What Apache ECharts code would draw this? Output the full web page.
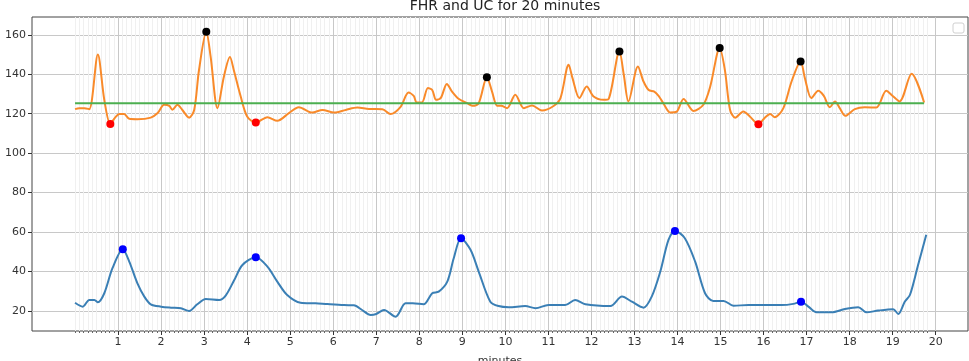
<!DOCTYPE html>
<html>
<head>
<meta charset="utf-8">
<title>FHR and UC for 20 minutes</title>
<script src="https://cdn.jsdelivr.net/npm/echarts@6/dist/echarts.min.js"></script>
<style>html,body{margin:0;padding:0;background:#fff;}</style>
</head>
<body>
<div id="main" style="width:969px;height:361px;"></div>
<script type="text/javascript">
// FHR trace: [minute, bpm]
var fhr = [
    [0,122.3],[0.1,122.8],[0.22,122.8],[0.33,122.3],[0.53,150],[0.68,127],[0.82,114.8],[0.93,118],
    [1.03,119.8],[1.14,119.8],[1.26,117.4],[1.45,117.2],[1.76,118],[1.92,120.3],[2.07,124.5],[2.19,124],
    [2.26,122],[2.38,124.5],[2.49,122],[2.65,118],[2.77,122],[2.88,142],[3.05,161.5],[3.15,149],
    [3.31,122.8],[3.46,138.9],[3.6,148.7],[3.69,142],[3.85,128.7],[4.0,118.6],[4.2,115.5],[4.47,118.2],
    [4.7,116.4],[4.97,120.3],[5.2,123.3],[5.51,120.6],[5.75,121.9],[6.02,120.6],[6.29,121.9],[6.56,123.1],
    [6.83,122.4],[7.14,122.3],[7.33,119.8],[7.56,123.3],[7.75,130.7],[7.87,129],[7.94,125.7],[8.06,125.7],
    [8.2,133],[8.3,132],[8.39,127],[8.5,128],[8.64,135.1],[8.76,131.2],[8.92,127.4],[9.11,125.3],
    [9.23,124],[9.38,125.3],[9.57,138.5],[9.69,131.2],[9.81,124],[9.9,124],[10.04,122.8],[10.23,129.6],
    [10.43,122.8],[10.62,124.2],[10.85,121.6],[11.12,123.9],[11.28,127.9],[11.47,144.8],[11.56,138],[11.72,127.9],
    [11.89,133.8],[12.05,128.7],[12.28,127],[12.4,127.5],[12.65,151.5],[12.75,140],[12.86,126.2],[13.08,143.9],
    [13.21,136.3],[13.33,132],[13.46,131.2],[13.56,129],[13.67,125.3],[13.83,120.6],[13.98,121],[14.14,127.5],
    [14.37,121.4],[14.6,124.5],[14.76,133.8],[14.98,153.3],[15.1,142.2],[15.22,122],[15.34,118],[15.53,121.1],
    [15.68,118.6],[15.88,114.7],[16.03,118],[16.15,119.9],[16.26,118.2],[16.46,122.8],[16.65,136.3],[16.86,146.5],
    [16.96,138],[17.11,127.9],[17.27,131.6],[17.4,129],[17.54,123.3],[17.66,126.2],[17.77,122.8],[17.9,118.9],
    [18.12,122.3],[18.35,123.3],[18.62,123.1],[18.85,131.6],[19.0,129],[19.16,126.2],[19.44,140.2],[19.73,125.7]
];

// UC trace: [minute, value]
var uc = [
    [0,24.2],[0.18,22.2],[0.33,25.6],[0.45,25.6],[0.53,24.4],[0.68,29],[0.87,41.7],[1.11,51.3],
    [1.26,45],[1.45,34],[1.61,27.3],[1.76,23.4],[2.0,22.2],[2.23,21.7],[2.46,21.4],[2.65,20],
    [2.84,23.4],[3.04,26.1],[3.35,25.6],[3.5,27.8],[3.7,35.7],[3.89,43.3],[4.2,47.2],[4.47,42.5],
    [4.7,34.9],[4.93,28.1],[5.24,24.2],[5.59,23.9],[5.86,23.5],[6.25,23],[6.48,22.9],[6.67,20.5],
    [6.87,18],[7.0,18.5],[7.18,20.5],[7.45,17.1],[7.68,23.9],[7.85,23.9],[8.1,23.4],[8.3,29],
    [8.45,29.8],[8.65,34.9],[8.8,46.7],[8.97,56.9],[9.19,51],[9.38,40],[9.65,24.7],[9.84,22.5],
    [10.08,21.9],[10.46,22.5],[10.7,21.4],[11.0,23],[11.39,23],[11.62,25.6],[11.86,23.4],[12.44,22.5],
    [12.71,27.3],[12.94,24.7],[13.21,21.7],[13.4,27.3],[13.6,40],[13.79,56],[13.94,60.6],[14.17,56.9],
    [14.41,45],[14.64,29],[14.83,25.1],[15.07,25.1],[15.3,22.7],[15.65,23],[16.03,23],[16.42,23],
    [16.69,23.6],[16.87,24.7],[17.04,22.2],[17.23,19.3],[17.58,19.3],[17.89,21],[18.2,21.9],[18.39,19.3],
    [18.66,20.2],[19.01,20.9],[19.13,18.5],[19.28,24.7],[19.4,28.1],[19.59,43.3],[19.78,58.6]
];

var fhrPeaks = [[3.05,161.5],[9.57,138.5],[12.65,151.5],[14.98,153.3],[16.86,146.5]];
var fhrTroughs = [[0.82,114.8],[4.2,115.5],[15.88,114.7]];
var ucPeaks = [[1.11,51.3],[4.2,47.2],[8.97,56.9],[13.94,60.6],[16.87,24.7]];

var baseline = 125.3;
var baselineSpan = [0, 19.73];

var xTicks = [1,2,3,4,5,6,7,8,9,10,11,12,13,14,15,16,17,18,19,20];
var yTicks = [20,40,60,80,100,120,140,160];
var xMinor = [0];
for (var i = 1; i <= 198; i++) {
    if (i % 10 !== 0) xMinor.push(i / 10);
}

var font = 'DejaVu Sans';
var myChart = echarts.init(document.getElementById('main'));

var option = {
    animation: false,
    backgroundColor: '#fff',
    title: {
        text: 'FHR and UC for 20 minutes',
        left: 500,
        top: -6,
        textAlign: 'center',
        textStyle: { fontFamily: font, fontSize: 14, fontWeight: 'normal', color: '#222' }
    },
    grid: {
        left: 32, right: 1, top: 17, bottom: 30,
        outerBoundsMode: 'none',
        show: true, borderColor: '#444', borderWidth: 1
    },
    graphic: [{
        type: 'rect',
        shape: { x: 953, y: 23, width: 11, height: 10, r: 2 },
        style: { fill: '#fff', stroke: '#d0d0d0', lineWidth: 1 }
    }],
    xAxis: [{
        type: 'value', min: -1, max: 20.75, position: 'bottom',
        axisLine: { show: false, onZero: false },
        axisTick: { customValues: xTicks, length: 4, lineStyle: { color: '#333' } },
        axisLabel: { customValues: xTicks, fontFamily: font, fontSize: 11, color: '#333', margin: 6 },
        splitLine: { show: true, lineStyle: { color: '#c8c8c8', width: 1 } },
        name: 'minutes', nameLocation: 'middle', nameGap: 25,
        nameTextStyle: { fontFamily: font, fontSize: 11, color: '#333' }
    }, {
        type: 'value', min: -1, max: 20.75, position: 'bottom',
        axisLine: { show: false, onZero: false },
        axisTick: { customValues: xMinor, length: 2, lineStyle: { color: '#666' } },
        axisLabel: { show: false },
        splitLine: { show: true, lineStyle: { color: '#f0f0f0', width: 1 } }
    }],
    yAxis: {
        type: 'value', min: 9.86, max: 169,
        axisLine: { show: false, onZero: false },
        axisTick: { show: true, customValues: yTicks, length: 4, lineStyle: { color: '#333' } },
        axisLabel: { customValues: yTicks, fontFamily: font, fontSize: 11, color: '#333', margin: 6 },
        splitLine: { show: true, lineStyle: { color: '#c8c8c8', width: 1 } }
    },
    series: [{
        name: 'FHR', type: 'line', data: fhr, smooth: 0.3, showSymbol: false, z: 3,
        lineStyle: { color: '#f98a2a', width: 2 }, itemStyle: { color: '#f98a2a' }
    }, {
        name: 'Baseline', type: 'line', z: 4, showSymbol: false,
        data: [[baselineSpan[0], baseline], [baselineSpan[1], baseline]],
        lineStyle: { color: '#4caf50', width: 2 }
    }, {
        name: 'UC', type: 'line', data: uc, smooth: 0.3, showSymbol: false, z: 3,
        lineStyle: { color: '#3a7fb5', width: 2 }, itemStyle: { color: '#3a7fb5' }
    }, {
        type: 'scatter', data: fhrPeaks, symbolSize: 8, z: 6, itemStyle: { color: '#000', opacity: 1 }
    }, {
        type: 'scatter', data: fhrTroughs, symbolSize: 8, z: 6, itemStyle: { color: '#ff0000', opacity: 1 }
    }, {
        type: 'scatter', data: ucPeaks, symbolSize: 8, z: 6, itemStyle: { color: '#0000ff', opacity: 1 }
    }]
};

myChart.setOption(option);
</script>
</body>
</html>
